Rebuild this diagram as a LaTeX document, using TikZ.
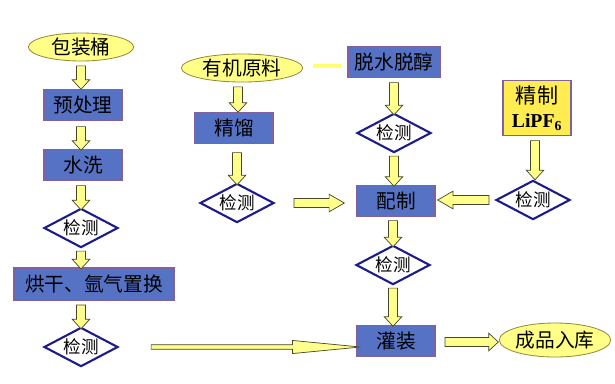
\documentclass[tikz,border=0pt]{standalone}
\usepackage{fontspec}
\newfontfamily\cjk{Noto Sans CJK SC}
\newfontfamily\lat{Liberation Serif}
\usetikzlibrary{shapes.geometric,shapes.arrows,calc}

\definecolor{boxblue}{RGB}{86,114,196}
\definecolor{boxline}{RGB}{128,98,160}
\definecolor{padfill}{RGB}{255,255,136}
\definecolor{padline}{RGB}{150,140,60}
\definecolor{chkline}{RGB}{28,28,140}
\definecolor{arrfill}{RGB}{255,255,140}
\definecolor{arrline}{RGB}{70,70,40}
\definecolor{saltfill}{RGB}{255,236,80}

% block arrow between two points: \blockarr[opts]{(from)}{(to)}
\newcommand\blockarr[3][]{%
  \path let \p1=#2, \p2=#3, \n1={veclen(\x2-\x1,\y2-\y1)}, \n2={atan2(\y2-\y1,\x2-\x1)} in
    node[barr, minimum height=\n1, rotate=\n2, #1] at ({(\x1+\x2)/2},{(\y1+\y2)/2}) {};}

\begin{document}
\begin{tikzpicture}[x=0.025cm, y=-0.025cm,
    blk/.style={draw=boxline, fill=boxblue, line width=0.8pt, minimum width=1.95cm, minimum height=0.78cm, inner sep=0pt, font=\cjk\fontsize{14}{16}\selectfont},
    pad/.style={draw=padline, fill=padfill, ellipse, line width=0.6pt, inner sep=0pt, font=\cjk\fontsize{14}{16}\selectfont},
    chk/.style={draw=chkline, fill=white, diamond, aspect=2, line width=1.5pt, minimum width=1.85cm, minimum height=0.98cm, inner sep=0pt, font=\cjk\fontsize{12.5}{14}\selectfont},
    barr/.style={single arrow, draw=arrline, fill=arrfill, line width=0.5pt, inner sep=2.9pt, minimum width=12.5pt, single arrow head extend=3pt, single arrow tip angle=85},
    wide/.style={minimum width=12.5pt, single arrow tip angle=60},
    thin/.style={inner sep=1.4pt, minimum width=7.8pt, single arrow tip angle=11},
    link/.style={draw=arrfill!80!yellow, line width=3pt}
]
\useasboundingbox[fill=white] (0,0) rectangle (615,383);

% left column
\node[pad, minimum width=2.63cm, minimum height=0.7cm] (barrel) at (81,47) {包装桶};
\node[blk] (pre) at (83,105) {预处理};
\node[blk] (wash) at (83,165) {水洗};
\node[chk] (chk1) at (81,228) {检测};
\node[blk, minimum width=4cm, minimum height=0.8cm] (dry) at (94,284) {烘干、氩气置换};
\node[chk] (chk2) at (81,347) {检测};

% middle column
\node[pad, minimum width=3.03cm, minimum height=0.7cm] (raw) at (242,68) {有机原料};
\node[blk] (rect) at (234,128) {精馏};
\node[chk] (chk3) at (237,203) {检测};

% right column
\node[blk, minimum width=2.3cm] (dehyd) at (394,62) {脱水脱醇};
\node[chk] (chk4) at (394,133) {检测};
\node[blk] (mix) at (396,201) {配制};
\node[chk] (chk5) at (393,265) {检测};
\node[blk] (fill) at (396,341) {灌装};
\node[pad, minimum width=2.6cm, minimum height=0.85cm] (store) at (555,340) {成品入库};

% salt branch
\node[draw=boxline, fill=saltfill, line width=0.8pt, minimum width=1.7cm, minimum height=1.38cm, inner sep=0pt, align=center, font=\lat\bfseries\fontsize{14}{17}\selectfont] (salt) at (537,108) {{\cjk\mdseries\fontsize{15}{17}\selectfont 精制}\\LiPF\textsubscript{6}};
\node[chk] (chk6) at (533,200) {检测};

% connectors
\blockarr{($(barrel.south)+(0,2)$)}{($(barrel.south |- pre.north)+(0,-2)$)}
\blockarr{($(chk1.north |- pre.south)+(0,3)$)}{($(chk1.north |- wash.north)+(0,-1)$)}
\blockarr{($(chk1.north |- wash.south)+(0,2)$)}{(chk1.north)}
\blockarr{($(chk1.south)+(0,0)$)}{($(chk1.south |- dry.north)+(0,-1)$)}
\blockarr{($(chk2.north |- dry.south)+(0,2)$)}{(chk2.north)}
\blockarr[thin]{($(chk2.east)+(20,0)$)}{($(fill.west |- chk2.east)+(-8,0)$)}

\blockarr{($(raw.south)+(-4,2)$)}{($(raw.south |- rect.north)+(-4,-2)$)}
\blockarr{($(chk3.north |- rect.south)+(0,6)$)}{(chk3.north)}
\blockarr[wide]{($(chk3.east)+(15,0)$)}{($(mix.west |- chk3.east)+(-16,0)$)}

\blockarr{($(dehyd.south)+(0,2)$)}{(chk4.north)}
\blockarr{(chk4.south)}{($(chk4.south |- mix.north)+(0,-1)$)}
\blockarr{($(chk5.north |- mix.south)+(0,1)$)}{(chk5.north)}
\blockarr{(chk5.south)}{($(chk5.south |- fill.north)+(0,-1)$)}
\blockarr{($(fill.east)+(7,1)$)}{($(store.west)+(-3,2)$)}

\blockarr{($(chk6.north |- salt.south)+(2,2)$)}{($(chk6.north)+(2,-2)$)}
\blockarr[wide]{($(chk6.west)+(-2,0)$)}{($(mix.east |- chk6.west)+(6,0)$)}

\draw[link] ($(raw.east)+(10,-2)$) -- ($(dehyd.west |- raw.east)+(-6,-2)$);
\end{tikzpicture}
\end{document}
